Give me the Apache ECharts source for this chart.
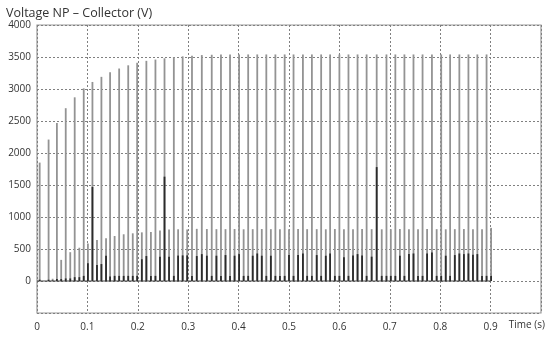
<!DOCTYPE html>
<html>
<head>
<meta charset="utf-8">
<script src="https://cdn.jsdelivr.net/npm/echarts@6/dist/echarts.min.js"></script>
<style>
html,body{margin:0;padding:0;background:#fff;}
#chart{width:550px;height:338px;}
</style>
</head>
<body>
<div id="chart"></div>
<script>
// Time of each main (tall) gray spike, s
var tallT = [0.0053,0.023,0.0395,0.057,0.0748,0.0927,0.110,0.1278,0.145,0.163,
  0.181,0.1987,0.217,0.235,0.253,0.2715,0.289,0.3075,0.327,0.3467,
  0.365,0.383,0.401,0.419,0.437,0.455,0.473,0.4914,0.509,0.5276,
  0.5454,0.5638,0.5816,0.600,0.618,0.636,0.654,0.674,0.6934,0.711,
  0.729,0.747,0.765,0.7836,0.802,0.8197,0.838,0.856,0.8737,0.892];
// Peak of tall gray spikes, V
var tallV = [1850,2210,2470,2700,2870,3010,3110,3190,3260,3320,
  3370,3410,3440,3460,3480,3500,3510,3520,3530,3535,
  3540,3540,3540,3540,3540,3540,3540,3540,3540,3540,
  3540,3540,3540,3540,3540,3540,3540,3540,3540,3540,
  3540,3540,3540,3540,3540,3540,3540,3540,3540,3540];
// Time of each secondary gray spike, s
var midT = [0.014,0.031,0.048,0.066,0.084,0.101,0.119,0.137,0.154,0.172,
  0.190,0.208,0.226,0.244,0.262,0.280,0.298,0.317,0.337,0.356,
  0.374,0.392,0.410,0.428,0.446,0.464,0.482,0.500,0.518,0.536,
  0.555,0.573,0.591,0.609,0.627,0.645,0.664,0.684,0.702,0.720,
  0.738,0.756,0.774,0.793,0.811,0.829,0.847,0.865,0.883,0.901];
// Peak of secondary gray spikes, V
var midV = [0,35,330,450,520,585,640,667,703,730,
  745,760,765,790,805,808,805,815,812,810,
  810,812,808,810,812,810,808,810,812,810,
  810,808,812,810,810,812,810,808,810,812,
  810,810,812,810,808,810,812,810,810,830];
// Black trace peaks at the main spike times, V
var blackTallV = [20,20,30,40,60,80,1470,265,70,80,
  80,80,390,80,1630,80,400,80,420,80,
  80,80,420,80,430,80,80,80,80,430,
  80,80,430,80,80,420,80,1780,80,80,
  80,430,80,445,80,80,430,430,420,80];
// Black trace peaks at the secondary spike times, V
var blackMidV = [0,10,30,40,60,276,250,395,80,80,
  80,340,80,380,380,397,400,390,395,395,
  405,395,80,395,395,395,80,405,405,80,
  405,395,80,370,400,400,380,80,80,395,
  420,80,430,80,395,405,420,410,80,80];
// Trace rests at zero between spikes
var baseT = [0, 0.901];
var baseV = [0, 0];

var xTicks = {min: 0, max: 1, interval: 0.1};
var yTicks = {min: -500, max: 4000, interval: 500};

function pairs(t, v) { return t.map(function (x, i) { return [x, v[i]]; }); }

var grayData = pairs(tallT, tallV).concat(pairs(midT, midV));
var blackData = pairs(tallT, blackTallV).concat(pairs(midT, blackMidV));

function spike(color, width) {
  return function (params, api) {
    var t = api.value(0), v = api.value(1);
    var p0 = api.coord([t, 0]);
    var p1 = api.coord([t, v]);
    return {
      type: 'line',
      shape: {x1: p0[0], y1: p0[1], x2: p1[0], y2: p1[1]},
      style: {stroke: color, lineWidth: width}
    };
  };
}

var FONT = 'Open Sans';
var chart = echarts.init(document.getElementById('chart'), null, {renderer: 'canvas'});
chart.setOption({
  animation: false,
  backgroundColor: '#fff',
  title: {
    text: 'Voltage NP \u2013 Collector (V)',
    left: 1, top: 2,
    textStyle: {fontFamily: FONT, fontSize: 12.5, fontWeight: 'normal', color: '#333'}
  },
  grid: {left: 37, right: 9, top: 25, bottom: 25, show: true, borderColor: '#999', borderWidth: 1.2},
  xAxis: {
    type: 'value', min: xTicks.min, max: xTicks.max, interval: xTicks.interval,
    axisLine: {show: false}, axisTick: {show: false},
    axisLabel: {
      margin: 9, fontFamily: FONT, fontSize: 10, color: '#333',
      formatter: function (v) { return v >= 0.999 ? '' : String(+v.toFixed(1)); }
    },
    splitLine: {show: true, lineStyle: {color: '#808080', type: [2, 2], width: 1}}
  },
  yAxis: {
    type: 'value', min: yTicks.min, max: yTicks.max, interval: yTicks.interval,
    axisLine: {show: false}, axisTick: {show: false},
    axisLabel: {
      margin: 6, fontFamily: FONT, fontSize: 10, color: '#333',
      formatter: function (v) { return v < 0 ? '' : String(v); }
    },
    splitLine: {show: true, lineStyle: {color: '#808080', type: [2, 2], width: 1}}
  },
  graphic: [{
    type: 'text', right: 5, top: 320,
    style: {text: 'Time (s)', font: '10px "Open Sans"', fill: '#333'}
  }],
  series: [
    {type: 'line', data: pairs(baseT, baseV), symbol: 'none',
     lineStyle: {color: '#444', width: 1.2}, z: 3},
    {type: 'custom', renderItem: spike('#939393', 1.8), data: grayData,
     encode: {x: 0, y: 1}, z: 4, clip: true},
    {type: 'custom', renderItem: spike('#2b2b2b', 1.8), data: blackData,
     encode: {x: 0, y: 1}, z: 5, clip: true}
  ]
});
</script>
</body>
</html>
